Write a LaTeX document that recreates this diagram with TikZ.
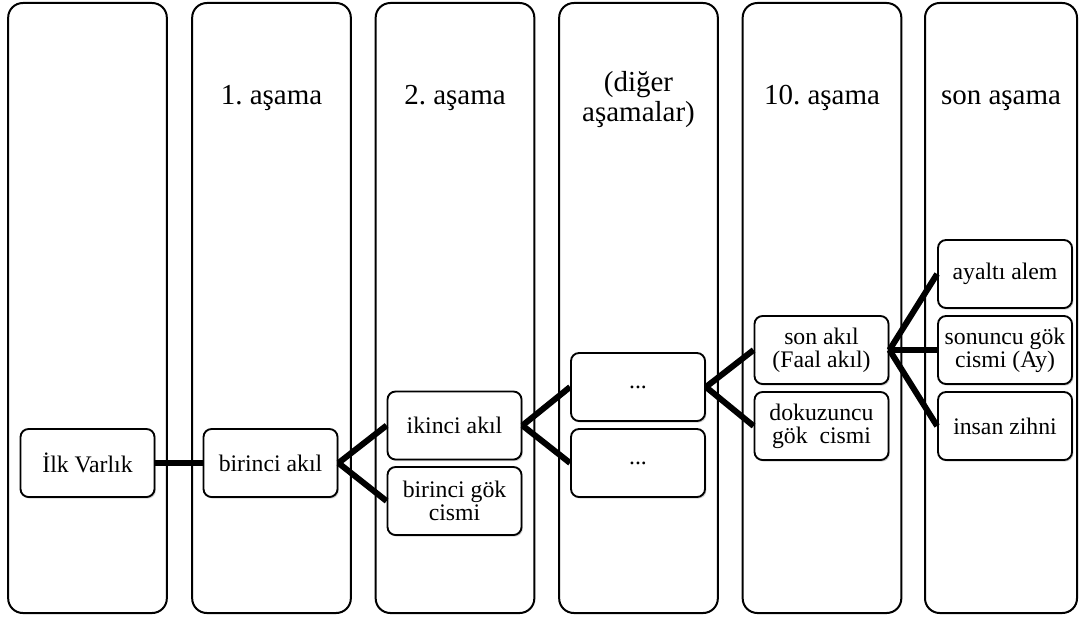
\documentclass[tikz,border=0pt]{standalone}
\usepackage{fontspec}
\setmainfont{Liberation Serif}
\usetikzlibrary{shadows}
\frenchspacing
\begin{document}
\begin{tikzpicture}[x=0.75pt,y=-0.75pt,
  col/.style={draw=black, line width=1.5pt, rounded corners=11pt, fill=white, inner sep=0pt,
    minimum width=119pt, minimum height=457.5pt},
  head/.style={font=\fontsize{21.75}{22.5}\selectfont, align=center, inner sep=0pt, anchor=base},
  box/.style={draw=black, line width=1.4pt, rounded corners=6pt, fill=white, align=center,
    inner sep=0pt, minimum width=100.5pt, minimum height=51pt,
    font=\fontsize{17.8}{17.5}\selectfont,
    drop shadow={shadow xshift=1pt, shadow yshift=-1.2pt, opacity=0.35, fill=gray}},
  conn/.style={line width=4.5pt, line cap=butt}]
\useasboundingbox (0,0) rectangle (1081,617);
% columns
\node[col] (c1) at (87.5,308) {};
\node[col] (c2) at (271.5,308) {};
\node[col] (c3) at (455,308) {};
\node[col] (c4) at (638.5,308) {};
\node[col] (c5) at (822,308) {};
\node[col, minimum width=114pt] (c6) at (1001,308) {};
% headers
\node[head] (h2) at (271.5,104) {1. aşama};
\node[head] (h3) at (455,104) {2. aşama};
\node[head] (h4) at (638.5,122) {(diğer\\aşamalar)};
\node[head] (h5) at (822,104) {10. aşama};
\node[head] (h6) at (1001,104) {son aşama};
% boxes
\node[box] (ilk) at (87.5,463) {İlk Varlık};
\node[box] (bir) at (270.5,463) {birinci akıl};
\node[box] (ik) at (454.5,425.5) {ikinci akıl};
\node[box] (gok1) at (454.5,501) {birinci gök\\cismi};
\node[box] (d1) at (638,387) {...};
\node[box] (d2) at (638,463) {...};
\node[box] (son) at (821.5,350) {son akıl\\(Faal akıl)};
\node[box] (dok) at (821.5,426) {dokuzuncu\\gök~~cismi};
\node[box] (ay) at (1005,274) {ayaltı alem};
\node[box] (sonu) at (1005,350) {sonuncu gök\\cismi (Ay)};
\node[box] (ins) at (1005,426) {insan zihni};
% connectors
\draw[conn] (ilk.east) -- (bir.west);
\draw[conn] (bir.east) -- (ik.west);
\draw[conn] (bir.east) -- (gok1.west);
\draw[conn] (ik.east) -- (d1.west);
\draw[conn] (ik.east) -- (d2.west);
\draw[conn] (d1.east) -- (son.west);
\draw[conn] (d1.east) -- (dok.west);
\draw[conn] (son.east) -- (ay.west);
\draw[conn] (son.east) -- (sonu.west);
\draw[conn] (son.east) -- (ins.west);
\end{tikzpicture}
\end{document}
